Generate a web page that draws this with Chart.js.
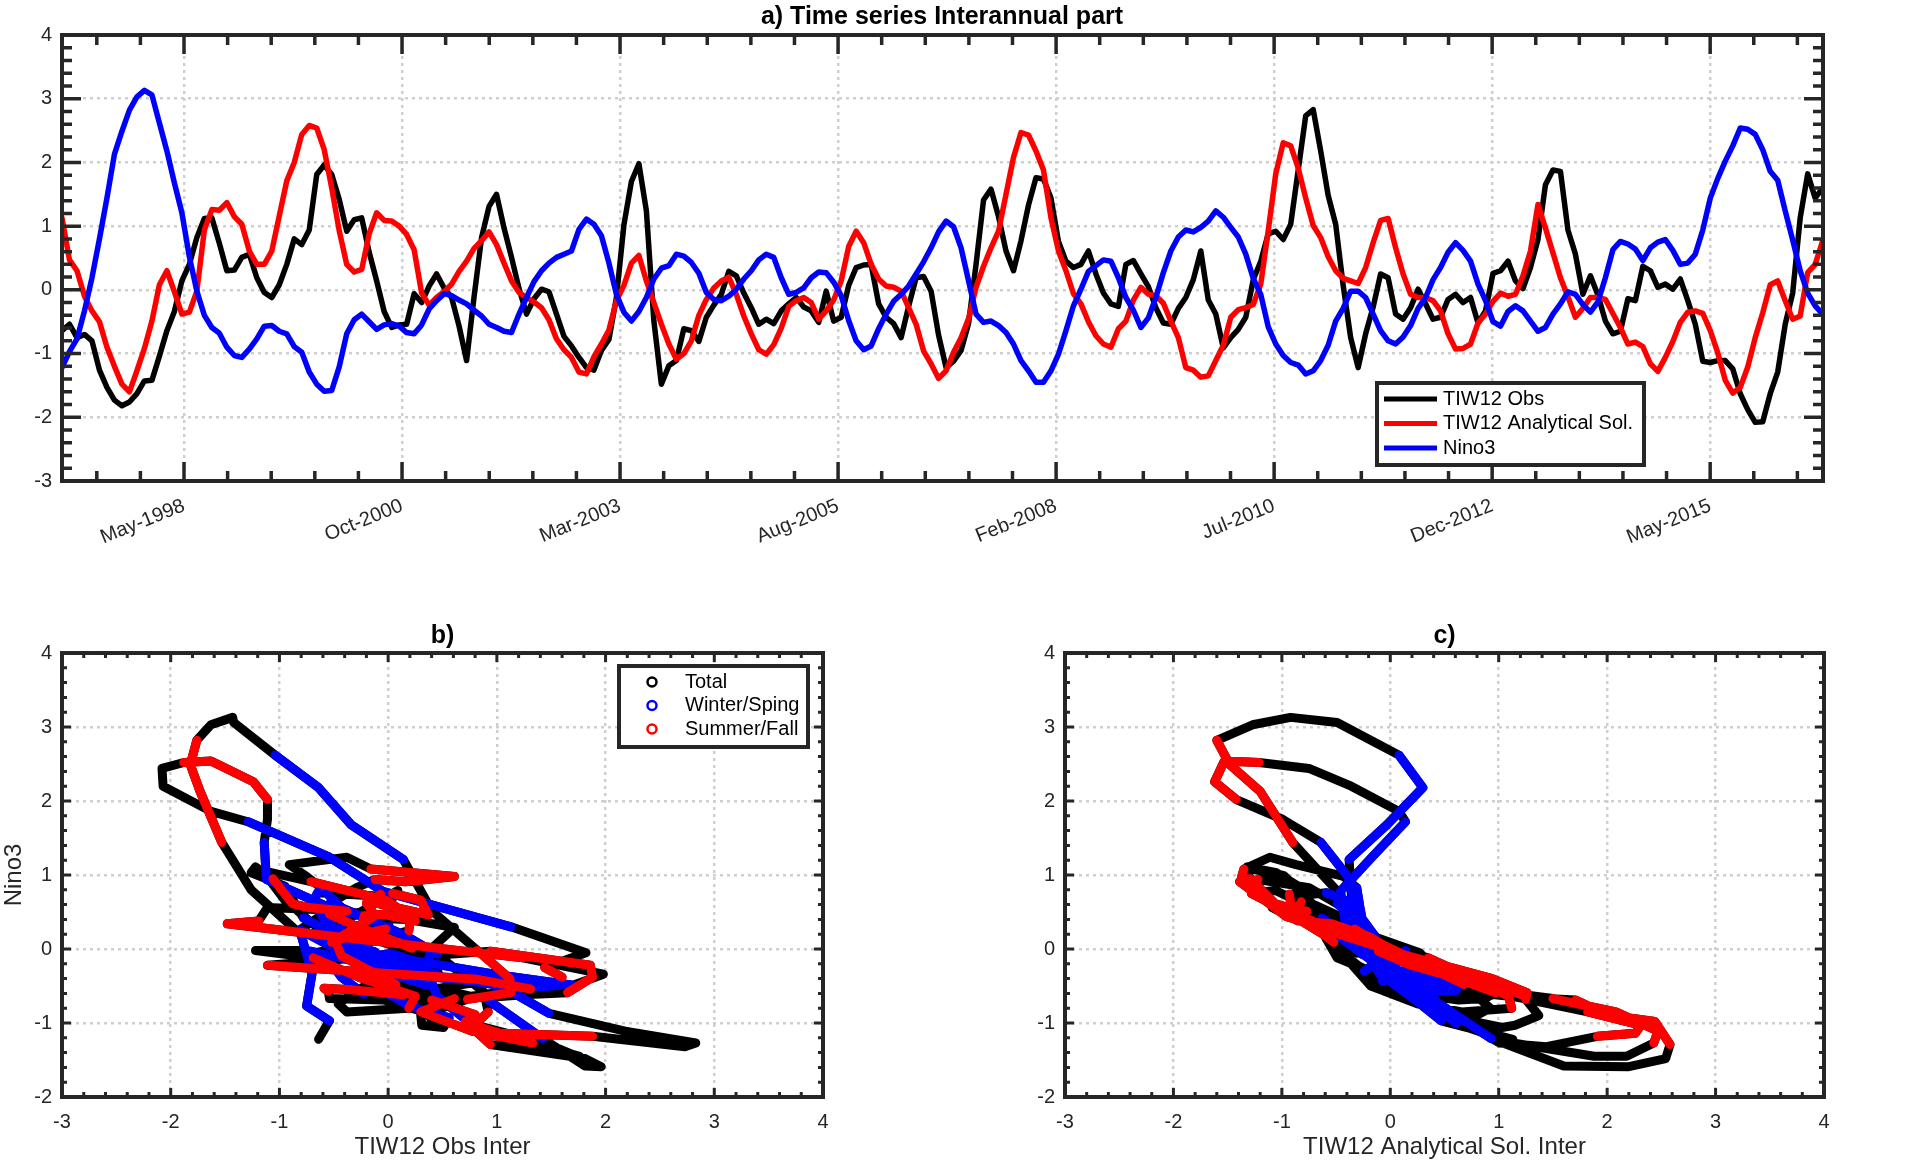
<!DOCTYPE html>
<html>
<head>
<meta charset="utf-8">
<title>TIW12 interannual</title>
<script src="https://cdn.jsdelivr.net/npm/chart.js@4.4.0/dist/chart.umd.min.js"></script>
<style>
  html, body { margin: 0; padding: 0; background: #fff; }
  body { width: 1925px; height: 1163px; position: relative; overflow: hidden; }
  canvas { position: absolute; }
  #chartA { left: 0; top: 0; }
  #chartB { left: 0; top: 600px; }
  #chartC { left: 1000px; top: 600px; }
</style>
</head>
<body>
<canvas id="chartA" width="1884" height="560"></canvas>
<canvas id="chartB" width="885" height="563"></canvas>
<canvas id="chartC" width="889" height="563"></canvas>
<script>
// monthly samples, Jan-1997 .. Aug-2016
const monthNames = ['Jan', 'Feb', 'Mar', 'Apr', 'May', 'Jun', 'Jul', 'Aug', 'Sep', 'Oct', 'Nov', 'Dec'];
const sampleYears = [1997, 1998, 1999, 2000, 2001, 2002, 2003, 2004, 2005, 2006,
                     2007, 2008, 2009, 2010, 2011, 2012, 2013, 2014, 2015, 2016];
const lastSample = 'Aug-2016';

// seasons used in panels b) and c)
const winterSpring = ['Feb', 'Mar', 'Apr', 'May'];
const summerFall = ['Jul', 'Aug', 'Sep', 'Oct'];

// x ticks of panel a) (decimal years) and their labels
const tickYears = [1998.39, 2000.815, 2003.24, 2005.665, 2008.09, 2010.515, 2012.94, 2015.365];
const tickLabels = ['May-1998', 'Oct-2000', 'Mar-2003', 'Aug-2005', 'Feb-2008', 'Jul-2010', 'Dec-2012', 'May-2015'];

// TIW12 Obs (interannual part), one row per year
const tiwObs = [
  -0.64, -0.54, -0.75, -0.70, -0.80, -1.26, -1.53, -1.73, -1.82, -1.76, -1.63, -1.43,
  -1.42, -1.04, -0.64, -0.34, 0.14, 0.40, 0.82, 1.12, 1.13, 0.73, 0.30, 0.31,
  0.51, 0.56, 0.19, -0.04, -0.12, 0.08, 0.40, 0.80, 0.71, 0.94, 1.81, 1.96,
  1.81, 1.42, 0.92, 1.10, 1.13, 0.59, 0.14, -0.34, -0.59, -0.55, -0.54, -0.06,
  -0.20, 0.06, 0.25, 0.03, -0.12, -0.57, -1.11, -0.11, 0.82, 1.31, 1.50, 0.97,
  0.51, 0.02, -0.38, -0.14, 0.01, -0.03, -0.38, -0.73, -0.88, -1.06, -1.22, -1.26,
  -0.95, -0.78, -0.12, 1.02, 1.70, 1.98, 1.24, -0.49, -1.48, -1.19, -1.11, -0.61,
  -0.64, -0.81, -0.43, -0.24, -0.07, 0.29, 0.22, -0.05, -0.28, -0.54, -0.46, -0.53,
  -0.33, -0.22, -0.12, -0.27, -0.33, -0.51, -0.02, -0.49, -0.43, 0.07, 0.35, 0.39,
  0.40, -0.22, -0.43, -0.53, -0.75, -0.26, 0.19, 0.21, -0.02, -0.71, -1.22, -1.12,
  -0.95, -0.53, 0.40, 1.41, 1.58, 1.15, 0.61, 0.30, 0.77, 1.33, 1.76, 1.74,
  1.44, 0.76, 0.45, 0.35, 0.40, 0.61, 0.25, -0.05, -0.22, -0.26, 0.40, 0.46,
  0.25, 0.05, -0.28, -0.52, -0.54, -0.29, -0.12, 0.16, 0.61, -0.16, -0.38, -0.91,
  -0.75, -0.62, -0.43, 0.16, 0.45, 0.88, 0.92, 0.79, 1.03, 1.88, 2.73, 2.83,
  2.18, 1.48, 1.03, 0.07, -0.75, -1.22, -0.69, -0.27, 0.25, 0.19, -0.38, -0.46,
  -0.28, 0.01, -0.22, -0.46, -0.43, -0.15, -0.07, -0.20, -0.12, -0.52, -0.33, 0.26,
  0.30, 0.45, 0.14, 0.02, 0.35, 0.79, 1.65, 1.88, 1.86, 0.94, 0.56, -0.07,
  0.22, -0.08, -0.49, -0.69, -0.65, -0.14, -0.17, 0.37, 0.30, 0.04, 0.09, 0.01,
  0.17, -0.17, -0.54, -1.12, -1.14, -1.11, -1.11, -1.24, -1.63, -1.88, -2.08, -2.07,
  -1.63, -1.29, -0.54, -0.05, 1.13, 1.82, 1.44, 1.60
];

// TIW12 Analytical Sol. (interannual part)
const tiwAnalytical = [
  1.13, 0.47, 0.30, -0.10, -0.33, -0.50, -0.90, -1.20, -1.48, -1.60, -1.27, -0.92,
  -0.49, 0.08, 0.30, -0.03, -0.38, -0.35, -0.02, 0.94, 1.26, 1.25, 1.37, 1.15,
  1.03, 0.61, 0.40, 0.40, 0.61, 1.16, 1.71, 2.00, 2.44, 2.58, 2.54, 2.20,
  1.60, 0.93, 0.40, 0.28, 0.32, 0.88, 1.21, 1.09, 1.08, 1.00, 0.87, 0.63,
  -0.05, -0.24, -0.12, -0.03, 0.09, 0.29, 0.45, 0.65, 0.77, 0.91, 0.71, 0.42,
  0.14, -0.04, -0.12, -0.19, -0.28, -0.47, -0.77, -0.94, -1.06, -1.29, -1.32, -1.05,
  -0.85, -0.63, -0.17, 0.07, 0.42, 0.54, 0.14, -0.20, -0.54, -0.85, -1.09, -1.00,
  -0.80, -0.40, -0.15, 0.03, 0.14, 0.20, -0.07, -0.41, -0.69, -0.94, -1.01, -0.86,
  -0.60, -0.26, -0.17, -0.12, -0.20, -0.46, -0.33, -0.16, 0.14, 0.68, 0.92, 0.74,
  0.40, 0.17, 0.06, 0.04, -0.02, -0.28, -0.54, -0.96, -1.16, -1.39, -1.27, -0.98,
  -0.75, -0.45, 0.04, 0.37, 0.66, 0.92, 1.50, 2.08, 2.47, 2.43, 2.18, 1.88,
  1.13, 0.61, 0.30, -0.06, -0.22, -0.50, -0.72, -0.85, -0.90, -0.61, -0.49, -0.16,
  0.04, -0.07, -0.09, -0.21, -0.49, -0.75, -1.22, -1.26, -1.37, -1.35, -1.11, -0.87,
  -0.43, -0.31, -0.28, -0.23, 0.09, 0.93, 1.82, 2.31, 2.26, 1.91, 1.44, 1.01,
  0.82, 0.52, 0.30, 0.18, 0.14, 0.10, 0.35, 0.74, 1.09, 1.12, 0.66, 0.25,
  -0.07, -0.12, -0.12, -0.17, -0.33, -0.69, -0.93, -0.92, -0.85, -0.52, -0.38, -0.18,
  -0.05, -0.10, -0.07, 0.22, 0.61, 1.34, 0.97, 0.58, 0.19, -0.11, -0.43, -0.29,
  -0.12, -0.12, -0.15, -0.37, -0.59, -0.85, -0.82, -0.89, -1.16, -1.28, -1.06, -0.81,
  -0.51, -0.35, -0.33, -0.37, -0.64, -0.99, -1.42, -1.62, -1.53, -1.21, -0.75, -0.36,
  0.08, 0.14, -0.17, -0.46, -0.41, 0.27, 0.40, 0.77
];

// Nino3 index
const nino3 = [
  -1.22, -0.97, -0.77, -0.33, 0.19, 0.80, 1.44, 2.13, 2.49, 2.82, 3.03, 3.13,
  3.06, 2.62, 2.18, 1.68, 1.21, 0.52, -0.02, -0.40, -0.59, -0.68, -0.90, -1.03,
  -1.06, -0.93, -0.77, -0.57, -0.56, -0.65, -0.69, -0.89, -0.98, -1.29, -1.48, -1.59,
  -1.58, -1.21, -0.69, -0.47, -0.38, -0.50, -0.62, -0.55, -0.53, -0.57, -0.67, -0.69,
  -0.55, -0.30, -0.17, -0.06, -0.09, -0.16, -0.22, -0.32, -0.41, -0.54, -0.59, -0.65,
  -0.67, -0.38, -0.12, 0.13, 0.30, 0.42, 0.51, 0.56, 0.61, 0.95, 1.11, 1.03,
  0.85, 0.42, -0.07, -0.35, -0.49, -0.34, -0.12, 0.17, 0.34, 0.38, 0.56, 0.53,
  0.43, 0.26, -0.04, -0.15, -0.17, -0.10, 0.01, 0.17, 0.30, 0.47, 0.56, 0.51,
  0.19, -0.07, -0.04, 0.03, 0.19, 0.28, 0.27, 0.12, -0.09, -0.48, -0.80, -0.94,
  -0.88, -0.61, -0.38, -0.18, -0.07, 0.06, 0.25, 0.44, 0.66, 0.91, 1.08, 0.99,
  0.66, 0.14, -0.38, -0.51, -0.49, -0.56, -0.67, -0.85, -1.11, -1.27, -1.45, -1.45,
  -1.27, -1.01, -0.64, -0.25, 0.01, 0.29, 0.38, 0.47, 0.45, 0.19, -0.12, -0.32,
  -0.59, -0.44, -0.12, 0.27, 0.61, 0.83, 0.94, 0.91, 0.98, 1.08, 1.24, 1.14,
  0.98, 0.83, 0.56, 0.18, -0.07, -0.58, -0.85, -1.03, -1.14, -1.18, -1.32, -1.27,
  -1.11, -0.87, -0.49, -0.29, -0.02, -0.02, -0.12, -0.38, -0.64, -0.80, -0.85, -0.74,
  -0.56, -0.29, -0.12, 0.16, 0.35, 0.59, 0.74, 0.62, 0.45, 0.09, -0.17, -0.50,
  -0.57, -0.34, -0.25, -0.33, -0.49, -0.65, -0.59, -0.38, -0.22, -0.03, -0.07, -0.23,
  -0.35, -0.19, 0.19, 0.63, 0.76, 0.72, 0.64, 0.46, 0.66, 0.75, 0.79, 0.62,
  0.40, 0.42, 0.56, 0.94, 1.44, 1.75, 2.02, 2.26, 2.54, 2.52, 2.44, 2.20,
  1.86, 1.72, 1.24, 0.78, 0.30, -0.05, -0.25, -0.38
];

const fontFamily = "'Liberation Sans', Arial, Helvetica, sans-serif";
const axisColor = '#262626';
const gridColor = '#cfcfcf';
Chart.defaults.font.family = fontFamily;
Chart.defaults.color = axisColor;

// sample dates as decimal years
const samples = [];
for (const y of sampleYears) {
  for (let i = 0; i < 12; i++) {
    const label = monthNames[i] + '-' + y;
    samples.push({ label: label, month: monthNames[i], t: y + i / 12 + 0.033 });
    if (label === lastSample) break;
  }
}

function timePoints(values) {
  return values.map((v, i) => ({ x: samples[i].t, y: v }));
}

// consecutive samples of one season are joined, other months break the trail
function seasonPoints(xs, ys, months) {
  const pts = [];
  samples.forEach((s, i) => {
    if (months.includes(s.month)) {
      pts.push({ x: xs[i], y: ys[i] });
    } else if (pts.length && pts[pts.length - 1].y !== null) {
      pts.push({ x: xs[i], y: null });
    }
  });
  return pts;
}

// axes box with inward ticks on all four sides
const framePlugin = {
  id: 'frame',
  afterDatasetsDraw(chart, args, o) {
    const { ctx, chartArea: a } = chart;
    const marks = (scale, n) => {
      const vals = scale.ticks.map(t => t.value);
      const step = (vals[1] - vals[0]) / n;
      const out = [];
      let v = vals[0] - step * Math.floor((vals[0] - scale.min) / step + 1e-6);
      for (; v <= scale.max + 1e-6; v += step) {
        const major = vals.some(m => Math.abs(m - v) < step / 10);
        out.push({ px: scale.getPixelForValue(v), major: major });
      }
      return out;
    };
    ctx.save();
    ctx.strokeStyle = axisColor;
    ctx.lineWidth = o.tickWidth;
    ctx.beginPath();
    for (const m of marks(chart.scales.x, o.minorX)) {
      const len = m.major ? o.major : o.minor;
      ctx.moveTo(m.px, a.bottom); ctx.lineTo(m.px, a.bottom - len);
      ctx.moveTo(m.px, a.top); ctx.lineTo(m.px, a.top + len);
    }
    for (const m of marks(chart.scales.y, o.minorY)) {
      const len = m.major ? o.major : o.minor;
      ctx.moveTo(a.left, m.px); ctx.lineTo(a.left + len, m.px);
      ctx.moveTo(a.right, m.px); ctx.lineTo(a.right - len, m.px);
    }
    ctx.stroke();
    ctx.lineWidth = o.boxWidth;
    ctx.strokeRect(a.left, a.top, a.width, a.height);
    ctx.restore();
  }
};

// boxed legend placed inside the axes
const boxLegend = {
  id: 'boxLegend',
  afterDraw(chart, args, o) {
    const { ctx } = chart;
    ctx.save();
    ctx.fillStyle = '#fff';
    ctx.fillRect(o.x, o.y, o.w, o.h);
    ctx.lineWidth = 4;
    ctx.strokeStyle = axisColor;
    ctx.strokeRect(o.x, o.y, o.w, o.h);
    ctx.font = o.fontSize + 'px ' + fontFamily;
    ctx.textBaseline = 'middle';
    chart.data.datasets.forEach((ds, i) => {
      const cy = o.y + o.firstRow + i * o.rowGap;
      ctx.strokeStyle = ds.borderColor;
      ctx.beginPath();
      if (o.marker === 'circle') {
        ctx.lineWidth = 2.5;
        ctx.arc(o.x + o.symX, cy, 4.5, 0, Math.PI * 2);
      } else {
        ctx.lineWidth = 5;
        ctx.moveTo(o.x + o.symX, cy);
        ctx.lineTo(o.x + o.symX + o.symLen, cy);
      }
      ctx.stroke();
      ctx.fillStyle = '#000';
      ctx.fillText(ds.label, o.x + o.textX, cy);
    });
    ctx.restore();
  }
};

const gridOpts = { color: gridColor, lineWidth: 2.5, drawTicks: false };
const borderOpts = { display: false, dash: [3, 4] };
const spacer = w => ({
  type: 'linear', position: 'right', display: true,
  grid: { drawOnChartArea: false, drawTicks: false },
  ticks: { display: false }, border: { display: false },
  afterFit: s => { s.width = w; }
});

// a) time series
new Chart(document.getElementById('chartA'), {
  type: 'line',
  data: {
    datasets: [
      { label: 'TIW12 Obs', data: timePoints(tiwObs), borderColor: '#000000', order: 3 },
      { label: 'TIW12 Analytical Sol.', data: timePoints(tiwAnalytical), borderColor: '#ff0000', order: 2 },
      { label: 'Nino3', data: timePoints(nino3), borderColor: '#0000ff', order: 1 }
    ]
  },
  options: {
    responsive: false, animation: false, devicePixelRatio: 1, events: [],
    datasets: { line: { yAxisID: 'y', xAxisID: 'x' } },
    elements: {
      point: { radius: 0 },
      line: { borderWidth: 5.5, tension: 0, borderJoinStyle: 'round', borderCapStyle: 'round' }
    },
    scales: {
      x: {
        type: 'linear', min: 1997.033, max: 2016.62,
        afterBuildTicks: s => { s.ticks = tickYears.map(v => ({ value: v })); },
        ticks: {
          callback: (v, i) => tickLabels[i],
          autoSkip: false, minRotation: 22, maxRotation: 22, padding: 13,
          font: { size: 20 }, color: axisColor
        },
        grid: gridOpts, border: borderOpts,
        afterFit: s => { s.height = 79; }
      },
      y: {
        type: 'linear', min: -3, max: 4,
        ticks: { stepSize: 1, padding: 10, font: { size: 20 }, color: axisColor },
        grid: gridOpts, border: borderOpts,
        afterFit: s => { s.width = 62; }
      },
      yR: spacer(61)
    },
    plugins: {
      legend: { display: false },
      tooltip: { enabled: false },
      title: {
        display: true, text: 'a) Time series Interannual part', color: '#000',
        font: { size: 25, weight: 'bold' }, padding: { top: 2, bottom: 3 }
      },
      frame: { tickWidth: 3.5, boxWidth: 4, major: 19, minor: 10, minorX: 5, minorY: 5 },
      boxLegend: { x: 1377, y: 383, w: 267, h: 82, firstRow: 16, rowGap: 24.5, symX: 7, symLen: 53, textX: 66, fontSize: 20 }
    }
  },
  plugins: [framePlugin, boxLegend]
});

// b) and c) scatter panels
function scatterPanel(id, xs, title, xTitle, yTitle, side, legend) {
  return new Chart(document.getElementById(id), {
    type: 'scatter',
    data: {
      datasets: [
        { label: 'Total', data: xs.map((v, i) => ({ x: v, y: nino3[i] })), borderColor: '#000000', order: 3 },
        { label: 'Winter/Sping', data: seasonPoints(xs, nino3, winterSpring), borderColor: '#0000ff', order: 2 },
        { label: 'Summer/Fall', data: seasonPoints(xs, nino3, summerFall), borderColor: '#ff0000', order: 1 }
      ]
    },
    options: {
      responsive: false, animation: false, devicePixelRatio: 1, events: [],
      datasets: { scatter: { showLine: true, yAxisID: 'y', xAxisID: 'x' } },
      elements: {
        point: { radius: 0 },
        line: { borderWidth: 9, tension: 0, borderJoinStyle: 'round', borderCapStyle: 'round' }
      },
      scales: {
        x: {
          type: 'linear', min: -3, max: 4,
          ticks: { stepSize: 1, padding: 13, font: { size: 20 }, color: axisColor },
          grid: gridOpts, border: borderOpts,
          title: { display: true, text: xTitle, font: { size: 24 }, color: axisColor, padding: { top: 0, bottom: 1 } },
          afterFit: s => { s.height = 66; }
        },
        y: {
          type: 'linear', min: -2, max: 4,
          ticks: { stepSize: 1, padding: 10, font: { size: 20 }, color: axisColor },
          grid: gridOpts, border: borderOpts,
          title: { display: !!yTitle, text: yTitle, font: { size: 24 }, color: axisColor, padding: { top: 0, bottom: 0 } },
          afterFit: s => { s.width = side; }
        },
        yR: spacer(side)
      },
      plugins: {
        legend: { display: false },
        tooltip: { enabled: false },
        title: {
          display: true, text: title, color: '#000',
          font: { size: 25, weight: 'bold' }, padding: { top: 21, bottom: 2 }
        },
        frame: { tickWidth: 3, boxWidth: 4, major: 9, minor: 5, minorX: 5, minorY: 5 },
        boxLegend: legend || false
      }
    },
    plugins: legend ? [framePlugin, boxLegend] : [framePlugin]
  });
}

scatterPanel('chartB', tiwObs, 'b)', 'TIW12 Obs Inter', 'Nino3', 62, {
  x: 619, y: 66, w: 189, h: 81, firstRow: 16, rowGap: 23.5, symX: 33, textX: 66, fontSize: 20, marker: 'circle'
});
scatterPanel('chartC', tiwAnalytical, 'c)', 'TIW12 Analytical Sol. Inter', '', 65, null);
</script>
</body>
</html>
